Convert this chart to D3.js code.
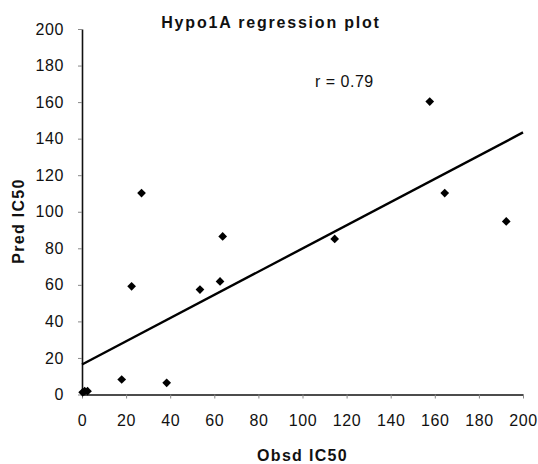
<!DOCTYPE html>
<meta charset="utf-8">
<script src="https://d3js.org/d3.v7.min.js"></script>
<style>
  body { margin: 0; background: #fff; }
  text { font-family: "Liberation Sans", Arial, sans-serif; fill: #111; }
</style>
<div id="chart"></div>
<script>

// observed vs predicted IC50
var obsd = [0.3, 1.2, 2.5, 18, 22.5, 27, 38.4, 53.5, 62.6, 63.8, 114.6, 157.7, 164.5, 192.4];
var pred = [1.2, 1.8, 1.8, 8.2, 59.2, 110.2, 6.4, 57.4, 61.9, 86.5, 85.1, 160.3, 110.2, 94.7];

// fitted line: pred = a + b * obsd
var fitA = 16.4;
var fitB = 0.635;

var xTicks = [0, 20, 40, 60, 80, 100, 120, 140, 160, 180, 200];
var yTicks = [0, 20, 40, 60, 80, 100, 120, 140, 160, 180, 200];

var margin = {top: 29, right: 15, bottom: 69, left: 82},
    width = 538 - margin.left - margin.right,
    height = 464 - margin.top - margin.bottom;

var svg = d3.select("#chart")
  .append("svg")
    .attr("width", 538)
    .attr("height", 464)
  .append("g")
    .attr("transform", "translate(" + margin.left + "," + margin.top + ")");

var x = d3.scaleLinear().domain([0, 200]).range([0, 441]);
var y = d3.scaleLinear().domain([0, 200]).range([height - 0.5, 0]);

// axes
var xAxis = svg.append("g")
  .attr("transform", "translate(0," + y(0) + ")")
  .call(d3.axisBottom(x).tickValues(xTicks).tickSize(4).tickPadding(16).tickSizeOuter(0));
var yAxis = svg.append("g")
  .call(d3.axisLeft(y).tickValues(yTicks).tickSize(4).tickPadding(14).tickSizeOuter(0));

[xAxis, yAxis].forEach(function(a) {
  a.select(".domain").attr("stroke", "#111").attr("stroke-width", 1.6);
  a.selectAll(".tick line").attr("stroke", "#888").attr("stroke-width", 1);
  a.selectAll(".tick text")
    .style("font-size", "16px")
    .style("letter-spacing", "0.6px")
    .attr("fill", "#111");
});

// regression line
svg.append("line")
  .attr("x1", x(0)).attr("y1", y(fitA))
  .attr("x2", x(200)).attr("y2", y(fitA + fitB * 200))
  .attr("stroke", "#000")
  .attr("stroke-width", 2.4);

// points
var diamond = d3.symbol().type(d3.symbolSquare).size(38);
svg.selectAll(".pt")
  .data(d3.range(obsd.length))
  .enter()
  .append("path")
    .attr("class", "pt")
    .attr("d", diamond)
    .attr("transform", function(i) {
      return "translate(" + x(obsd[i]) + "," + y(pred[i]) + ") rotate(45)";
    })
    .attr("fill", "#000");

// title and labels
svg.append("text")
  .attr("x", 271 - margin.left)
  .attr("y", 28 - margin.top)
  .attr("text-anchor", "middle")
  .style("font-size", "16px")
  .style("font-weight", "bold")
  .style("letter-spacing", "1.8px")
  .text("Hypo1A regression plot");

svg.append("text")
  .attr("x", 315 - margin.left)
  .attr("y", 87 - margin.top)
  .style("font-size", "16px")
  .style("letter-spacing", "0.5px")
  .text("r = 0.79");

svg.append("text")
  .attr("x", x(100))
  .attr("y", 461 - margin.top)
  .attr("text-anchor", "middle")
  .style("font-size", "16px")
  .style("font-weight", "bold")
  .style("letter-spacing", "1.3px")
  .text("Obsd IC50");

svg.append("text")
  .attr("transform", "translate(" + (24 - margin.left) + "," + (221 - margin.top) + ") rotate(-90)")
  .attr("text-anchor", "middle")
  .style("font-size", "16px")
  .style("font-weight", "bold")
  .style("letter-spacing", "1.3px")
  .text("Pred IC50");

</script>
